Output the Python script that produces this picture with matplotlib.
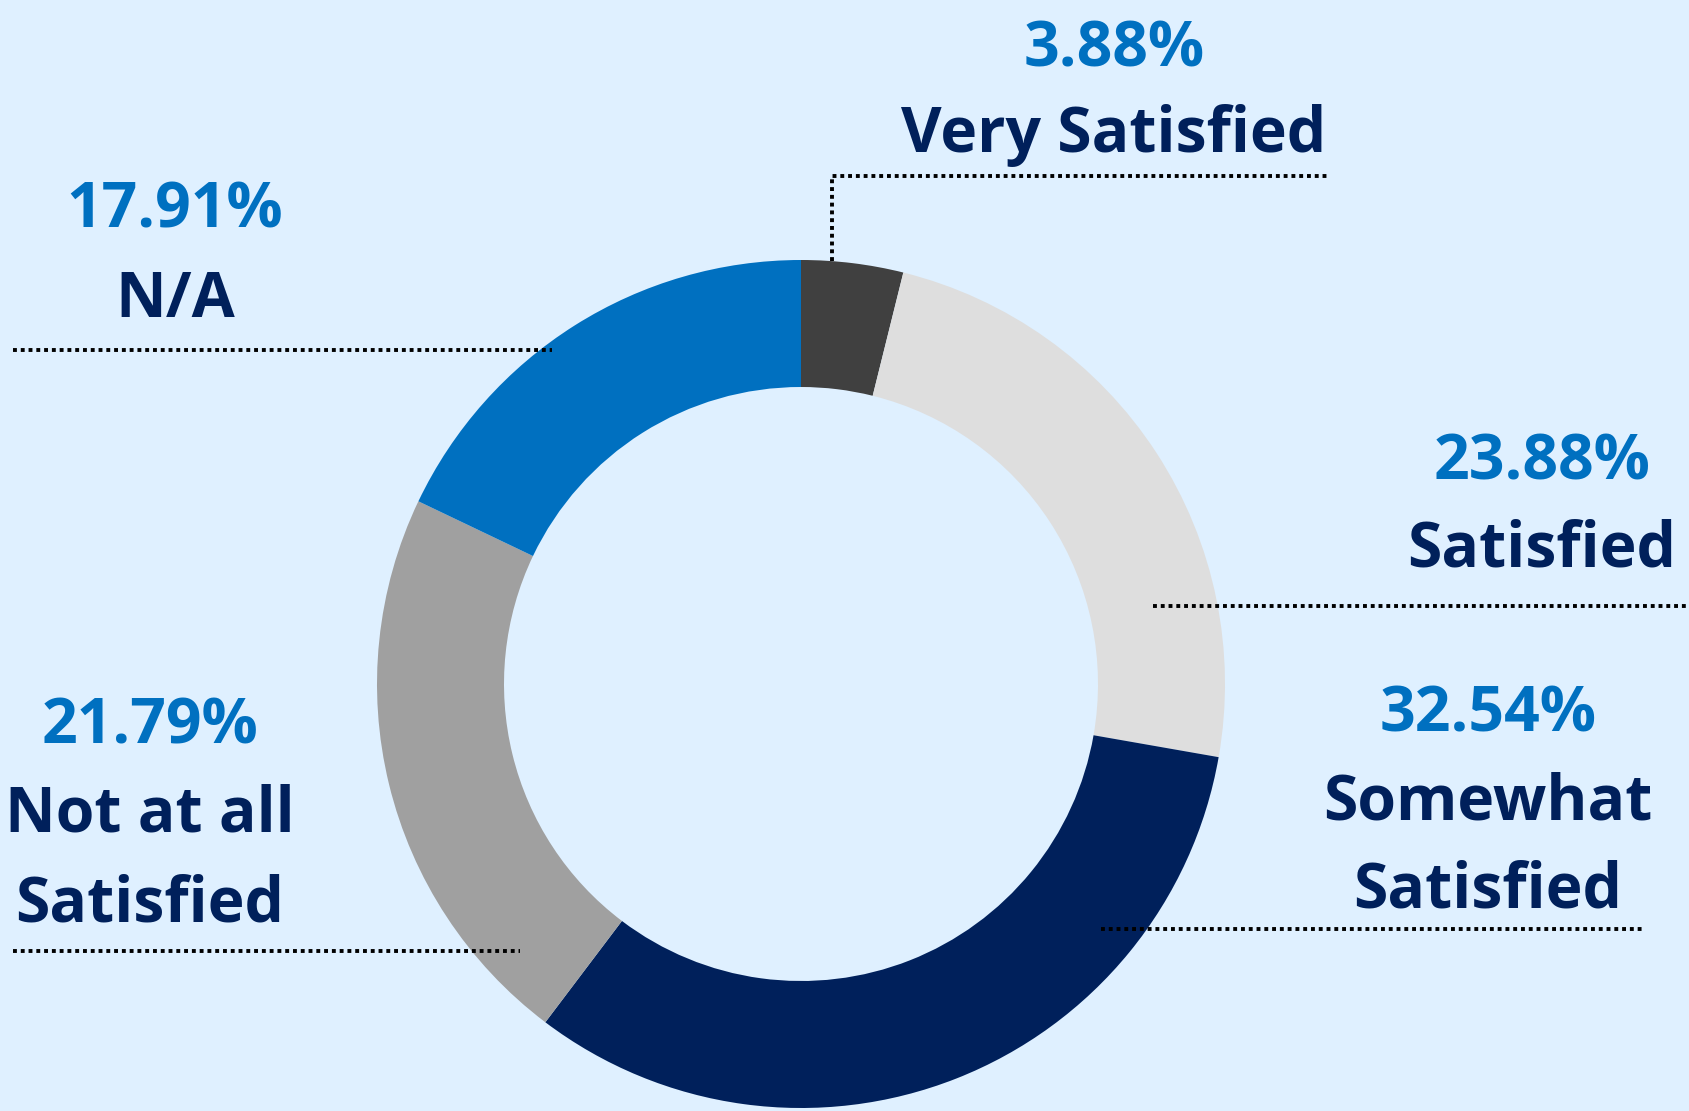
import matplotlib.pyplot as plt

# survey results, clockwise from the top
labels = ["Very Satisfied", "Satisfied", "Somewhat Satisfied", "Not at all Satisfied", "N/A"]
values = [3.88, 23.88, 32.54, 21.79, 17.91]
colors = ["#404040", "#DEDEDE", "#00205B", "#A0A0A0", "#0070C0"]

W, H = 1690, 1111
bg = "#DFF0FF"
pct_color = "#0070C0"
lab_color = "#00205B"
font = "Open Sans"
fs = 45

fig = plt.figure(figsize=(W / 100, H / 100), dpi=100, facecolor=bg)
ax = fig.add_axes([0, 0, 1, 1])
ax.set_facecolor(bg)

ax.pie(values, colors=colors, startangle=90, counterclock=False,
       radius=424, center=(801, H - 684),
       wedgeprops=dict(width=127, linewidth=0))
ax.set_xlim(0, W)
ax.set_ylim(0, H)
ax.set_aspect("equal")
ax.axis("off")

def y(v):
    return H - v

# text blocks: (x center, percent baseline, label lines, label baselines)
blocks = [
    (1114, 66, ["Very Satisfied"], [152]),
    (1542, 479, ["Satisfied"], [566]),
    (1488, 732, ["Somewhat", "Satisfied"], [819, 907]),
    (150, 744, ["Not at all", "Satisfied"], [832, 921]),
    (175, 227, ["N/A"], [317]),
]
for (xc, pb, lines, lbs), v in zip(blocks, values):
    ax.text(xc, y(pb), "%.2f%%" % v, ha="center", va="baseline",
            fontsize=fs, fontweight="bold", color=pct_color, family=font)
    for line, b in zip(lines, lbs):
        ax.text(xc, y(b), line, ha="center", va="baseline",
                fontsize=fs, fontweight="bold", color=lab_color, family=font)

# dotted leader lines
dots = dict(color="black", lw=2.8, dashes=(1, 1), dash_capstyle="butt")
ax.plot([832, 832, 1330], [y(261), y(176), y(176)], **dots)
ax.plot([13, 552], [y(350), y(350)], **dots)
ax.plot([1153, 1687], [y(606), y(606)], **dots)
ax.plot([1101, 1644], [y(929), y(929)], **dots)
ax.plot([13, 520], [y(951), y(951)], **dots)

fig.savefig("out.png", dpi=100, facecolor=bg)
